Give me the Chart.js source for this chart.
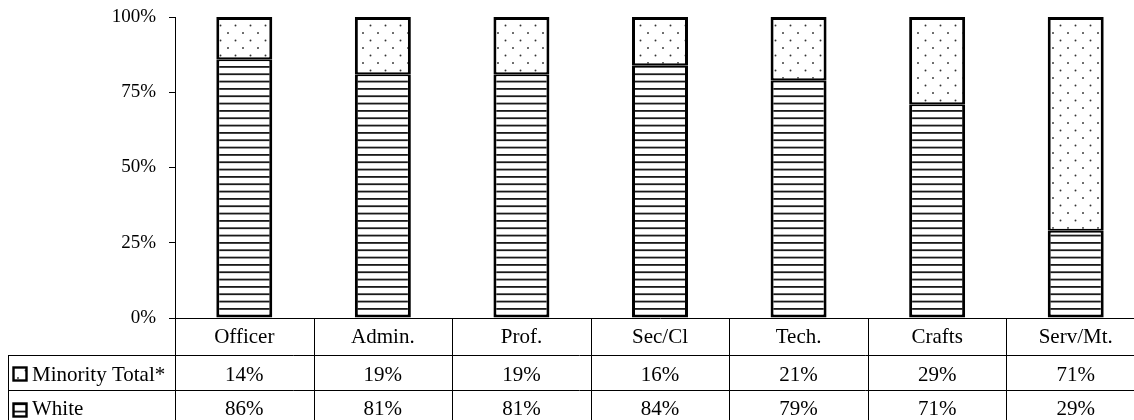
<!DOCTYPE html>
<html><head><meta charset="utf-8">
<script src="https://cdn.jsdelivr.net/npm/chart.js@4"></script>
<style>
html,body{margin:0;padding:0;overflow:hidden;background:#fff}
#wrap{width:1150px;height:420px}
</style>
</head><body>
<div id="wrap"><canvas id="c" width="1150" height="420"></canvas></div>
<script>
const categories = ['Officer', 'Admin.', 'Prof.', 'Sec/Cl', 'Tech.', 'Crafts', 'Serv/Mt.'];
const minority = [14, 19, 19, 16, 21, 29, 71];
const white = [86, 81, 81, 84, 79, 71, 29];
const yTicks = [0, 25, 50, 75, 100];
const seriesNames = ['Minority Total*', 'White'];

const canvas = document.getElementById('c');
const ctx = canvas.getContext('2d');

// horizontal hatching for the White segments
function stripePattern() {
  const c = document.createElement('canvas');
  c.width = 4; c.height = 22;
  const g = c.getContext('2d');
  g.fillStyle = '#fff'; g.fillRect(0, 0, 4, 22);
  g.fillStyle = '#1a1a1a';
  [0, 7.33, 14.67].forEach(y => g.fillRect(0, y, 4, 1.8));
  return ctx.createPattern(c, 'repeat');
}
// sparse staggered dots for the Minority segments
function dotPattern() {
  const c = document.createElement('canvas');
  c.width = 15; c.height = 15;
  const g = c.getContext('2d');
  g.fillStyle = '#fff'; g.fillRect(0, 0, 15, 15);
  g.fillStyle = '#333';
  [[3, 3], [10.5, 10.5]].forEach(([x, y]) => { g.beginPath(); g.arc(x, y, 0.95, 0, Math.PI * 2); g.fill(); });
  return ctx.createPattern(c, 'repeat');
}
const stripes = stripePattern();
const dots = dotPattern();

const FONT = "'Liberation Serif', 'Times New Roman', Times, serif";
Chart.defaults.font.family = FONT;
Chart.defaults.font.size = 19;
Chart.defaults.color = '#000';

// data table beneath the bars, aligned to the category scale
const tablePlugin = {
  id: 'dataTable',
  afterDraw(chart) {
    const { ctx: g, chartArea: a, scales: { x } } = chart;
    const n = categories.length;
    const step = x.getPixelForValue(1) - x.getPixelForValue(0);
    const tableLeft = 8;
    const rowLines = [355, 390];
    const bottom = chart.height + 5;
    g.save();
    g.strokeStyle = '#000';
    g.lineWidth = 1;
    g.beginPath();
    // y-axis continues down through the table
    g.moveTo(a.left + 0.5, a.bottom); g.lineTo(a.left + 0.5, bottom);
    for (let i = 1; i <= n; i++) {
      const bx = Math.round(x.getPixelForValue(i) - step / 2) + 0.5;
      g.moveTo(bx, a.bottom); g.lineTo(bx, bottom);
    }
    rowLines.forEach(y => { g.moveTo(tableLeft, y + 0.5); g.lineTo(a.right + step, y + 0.5); });
    g.moveTo(tableLeft + 0.5, rowLines[0]); g.lineTo(tableLeft + 0.5, bottom);
    g.stroke();

    g.fillStyle = '#000';
    g.font = '21px ' + FONT;
    g.textAlign = 'center';
    g.textBaseline = 'middle';
    const rowY = [337, 375, 409];
    categories.forEach((c, i) => {
      const cx = x.getPixelForValue(i);
      g.fillText(c, cx, rowY[0]);
      g.fillText(minority[i] + '%', cx, rowY[1]);
      g.fillText(white[i] + '%', cx, rowY[2]);
    });

    // legend keys and series names
    const keys = [[dots, 367], [stripes, 403]];
    keys.forEach(([pat, by], k) => {
      const bx = 13.5, s = 13;
      g.fillStyle = pat;
      g.fillRect(bx, by + 0.5, s, s);
      g.lineWidth = 2.4;
      g.strokeStyle = '#000';
      g.strokeRect(bx, by + 0.5, s, s);
      g.fillStyle = '#000';
      g.textAlign = 'left';
      g.fillText(seriesNames[k], 32, rowY[k + 1]);
    });
    g.restore();
  }
};

new Chart(ctx, {
  type: 'bar',
  data: {
    labels: categories,
    datasets: [
      {
        label: seriesNames[1], data: white,
        backgroundColor: stripes, borderColor: '#000',
        borderWidth: { top: 2, right: 3, bottom: 3, left: 3 },
        borderSkipped: false, barPercentage: 0.404, categoryPercentage: 1
      },
      {
        label: seriesNames[0], data: minority,
        backgroundColor: dots, borderColor: '#000',
        borderWidth: { top: 3, right: 3, bottom: 2, left: 3 },
        borderSkipped: false, barPercentage: 0.404, categoryPercentage: 1
      }
    ]
  },
  options: {
    responsive: false,
    animation: false,
    devicePixelRatio: 1,
    events: [],
    layout: { padding: { top: 17, right: 5, left: 0, bottom: 0 } },
    plugins: { legend: { display: false }, tooltip: { enabled: false } },
    scales: {
      x: {
        stacked: true,
        grid: { display: false },
        border: { display: true, color: '#000', width: 1 },
        ticks: { display: false },
        afterFit(s) { s.height = 102; }
      },
      y: {
        stacked: true,
        min: 0, max: 100,
        afterBuildTicks(s) { s.ticks = yTicks.map(v => ({ value: v })); },
        ticks: { padding: 13, callback: v => v + '%' },
        grid: { drawOnChartArea: false, tickLength: 6, color: '#000' },
        border: { display: true, color: '#000', width: 1 },
        afterFit(s) { s.width = 175; s.paddingTop = 0; s.paddingBottom = 0; }
      }
    }
  },
  plugins: [tablePlugin]
});
</script>
</body></html>
